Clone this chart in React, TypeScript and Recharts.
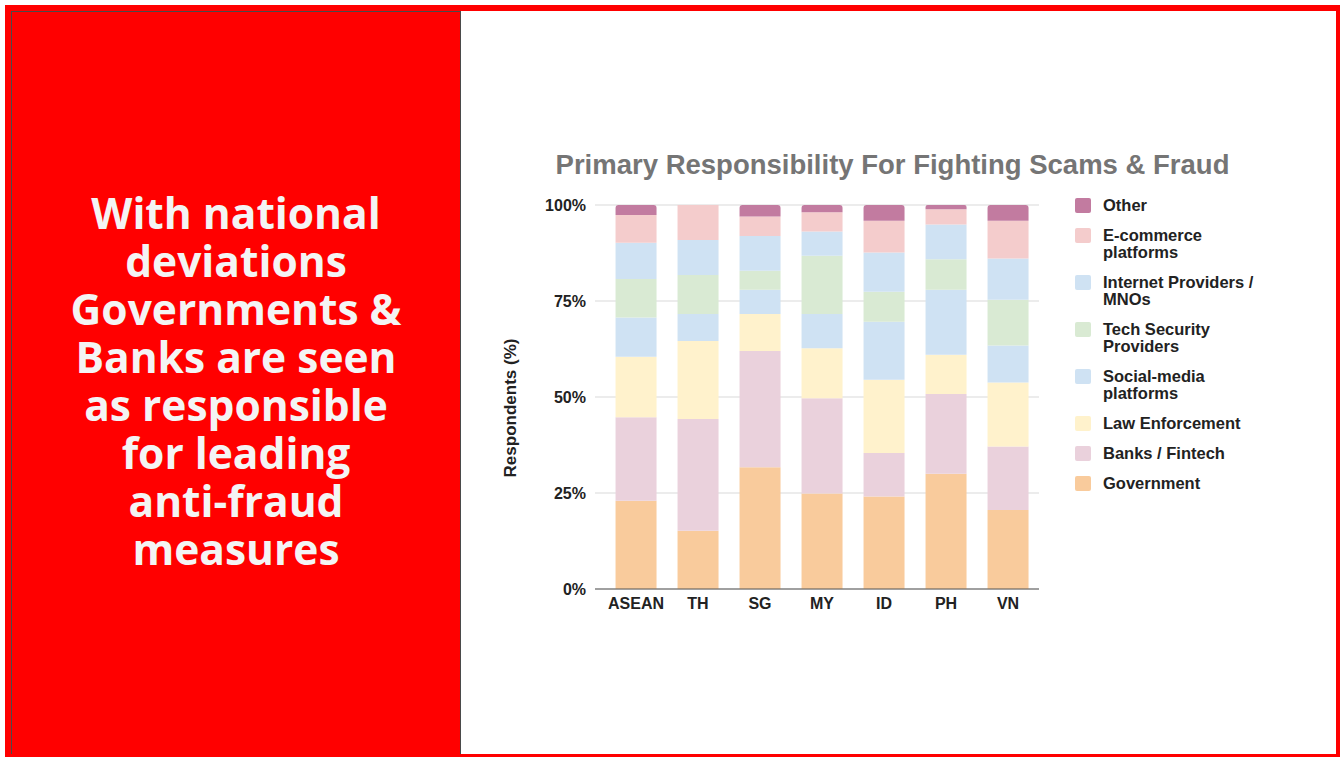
import React from "react";
import {
  Bar,
  BarChart,
  CartesianGrid,
  Legend,
  XAxis,
  YAxis,
} from "recharts";

const countries = ["ASEAN", "TH", "SG", "MY", "ID", "PH", "VN"];

// share of respondents (%) per country, bottom segment first
const government = [23.0, 15.2, 31.7, 24.9, 24.1, 30.0, 20.6];
const banksFintech = [21.7, 29.1, 30.3, 24.8, 11.3, 20.8, 16.5];
const lawEnforcement = [15.8, 20.3, 9.6, 13.0, 19.1, 10.2, 16.7];
const socialMedia = [10.2, 7.0, 6.3, 8.9, 15.1, 16.9, 9.6];
const techSecurity = [10.0, 10.2, 5.0, 15.2, 7.8, 8.0, 11.9];
const internetProviders = [9.5, 9.1, 9.0, 6.3, 10.2, 9.0, 10.8];
const ecommerce = [7.2, 9.1, 5.1, 5.0, 8.3, 4.0, 9.8];
const other = [2.6, 0.0, 3.0, 1.9, 4.1, 1.1, 4.1];

const yTicks = [0, 0.25, 0.5, 0.75, 1];

const series = [
  { key: "government", name: "Government", values: government, color: "#f9cb9c" },
  { key: "banks", name: "Banks / Fintech", values: banksFintech, color: "#ead1dc" },
  { key: "law", name: "Law Enforcement", values: lawEnforcement, color: "#fff2cc" },
  { key: "social", name: "Social-media platforms", values: socialMedia, color: "#cfe2f3" },
  { key: "tech", name: "Tech Security Providers", values: techSecurity, color: "#d9ead3" },
  { key: "internet", name: "Internet Providers / MNOs", values: internetProviders, color: "#cfe2f3" },
  { key: "ecommerce", name: "E-commerce platforms", values: ecommerce, color: "#f4cccc" },
  { key: "other", name: "Other", values: other, color: "#c27ba0" },
];

// legend labels wrap like the original sheet chart
const legendLines: Record<string, string[]> = {
  other: ["Other"],
  ecommerce: ["E-commerce", "platforms"],
  internet: ["Internet Providers /", "MNOs"],
  tech: ["Tech Security", "Providers"],
  social: ["Social-media", "platforms"],
  law: ["Law Enforcement"],
  banks: ["Banks / Fintech"],
  government: ["Government"],
};

const rows = countries.map((country, i) => {
  const row: Record<string, string | number> = { country };
  series.forEach((s) => {
    row[s.key] = s.values[i];
  });
  return row;
});

const FONT = "'Liberation Sans', Arial, sans-serif";
const tickStyle = { fontFamily: FONT, fontWeight: 700, fontSize: 16, fill: "#222" };

function StackLegend() {
  const items = [...series].reverse();
  return (
    <div style={{ fontFamily: FONT, fontWeight: 700, fontSize: 16.5, color: "#222" }}>
      {items.map((s) => (
        <div key={s.key} style={{ display: "flex", alignItems: "flex-start", marginBottom: 14 }}>
          <div
            style={{
              width: 16,
              height: 15,
              background: s.color,
              borderRadius: 2,
              marginRight: 12,
              flexShrink: 0,
            }}
          />
          <div style={{ lineHeight: "17px", marginTop: -1 }}>
            {legendLines[s.key].map((line) => (
              <div key={line}>{line}</div>
            ))}
          </div>
        </div>
      ))}
    </div>
  );
}

function YTitle({ viewBox }: { viewBox?: { x: number; y: number; width: number; height: number } }) {
  if (!viewBox) return null;
  const cx = viewBox.x + 30;
  const cy = viewBox.y + viewBox.height / 2 + 11;
  return (
    <text
      x={cx}
      y={cy}
      transform={`rotate(-90 ${cx} ${cy})`}
      textAnchor="middle"
      dominantBaseline="central"
      fontFamily={FONT}
      fontWeight={700}
      fontSize={17}
      fill="#222"
    >
      Respondents (%)
    </text>
  );
}

export default function App() {
  return (
    <div
      style={{
        position: "absolute",
        left: 0,
        top: 0,
        width: 1340,
        height: 757,
        overflow: "hidden",
        background: "#fff",
      }}
    >
      {/* red frame */}
      <div
        style={{
          position: "absolute",
          left: 5,
          top: 5,
          width: 1337,
          height: 756,
          background: "#ff0000",
        }}
      />
      <div
        style={{
          position: "absolute",
          left: 11,
          top: 11,
          width: 1325,
          height: 743,
          background: "#fff",
        }}
      />
      {/* left headline panel */}
      <div
        style={{
          position: "absolute",
          left: 11,
          top: 11,
          width: 450,
          height: 743,
          background: "#ff0000",
          border: "1px solid #4a4a4a",
          borderBottom: "none",
          display: "flex",
          alignItems: "center",
          justifyContent: "center",
          boxSizing: "border-box",
        }}
      >
        <div
          style={{
            fontFamily: "'Open Sans', sans-serif",
            fontWeight: 700,
            fontSize: 42.5,
            lineHeight: "48px",
            color: "#f4f4f4",
            textAlign: "center",
            marginTop: -5,
          }}
        >
          With national
          <br />
          deviations
          <br />
          Governments &amp;
          <br />
          Banks are seen
          <br />
          as responsible
          <br />
          for leading
          <br />
          anti-fraud
          <br />
          measures
        </div>
      </div>

      <div
        style={{
          position: "absolute",
          left: 480,
          top: 150,
          width: 825,
          textAlign: "center",
          fontFamily: FONT,
          fontWeight: 700,
          fontSize: 27.5,
          lineHeight: "30px",
          color: "#757575",
        }}
      >
        Primary Responsibility For Fighting Scams &amp; Fraud
      </div>

      <div style={{ position: "absolute", left: 480, top: 180 }}>
        <BarChart
          width={800}
          height={444}
          data={rows}
          stackOffset="expand"
          barCategoryGap="17%"
          margin={{ top: 25, right: 241, bottom: 5, left: 0 }}
        >
          <CartesianGrid vertical={false} stroke="#d9d9d9" />
          <XAxis
            dataKey="country"
            padding={{ left: 10, right: 0 }}
            axisLine={{ stroke: "#555" }}
            tickLine={false}
            tickSize={0}
            tickMargin={9}
            tick={tickStyle}
          />
          <YAxis
            width={115}
            domain={[0, 1]}
            ticks={yTicks}
            tickFormatter={(v: number) => `${Math.round(v * 100)}%`}
            axisLine={false}
            tickLine={false}
            tickSize={0}
            tickMargin={9}
            tick={tickStyle}
            label={{ content: YTitle as any }}
          />
          <Legend
            layout="horizontal"
            verticalAlign="middle"
            content={() => <StackLegend />}
            wrapperStyle={{ left: 595, top: 18, width: 220 }}
          />
          {series.map((s, i) => (
            <Bar
              key={s.key}
              dataKey={s.key}
              name={s.name}
              stackId="resp"
              fill={s.color}
              radius={i === series.length - 1 ? [3, 3, 0, 0] : 0}
              isAnimationActive={false}
            />
          ))}
        </BarChart>
      </div>
    </div>
  );
}
